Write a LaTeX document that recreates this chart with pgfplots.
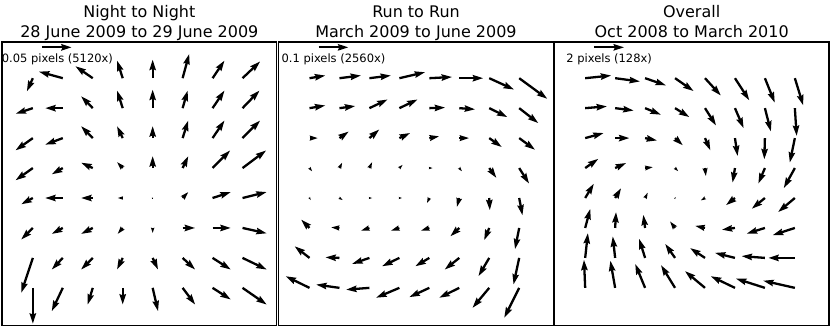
\documentclass[border=0pt]{standalone}
\usepackage{pgfplots}
\pgfplotsset{compat=1.18}
\usepackage{fontspec}
\setmainfont{DejaVu Sans}
\usetikzlibrary{arrows.meta}

\tikzset{
  titlefont/.style={font=\fontsize{16}{19}\selectfont, anchor=base},
  keyfont/.style={font=\fontsize{11.5}{13}\selectfont},
}

\pgfplotsset{
  panel/.style={
    scale only axis, width=275pt, height=284pt,
    xmin=-1.03, xmax=8.14, ymin=-1.26, ymax=8.21,
    xtick=\empty, ytick=\empty,
    axis line style={line width=1.2pt},
    clip=false,
    point meta min=0, point meta max=0.37,
  },
  vec/.style={
    black,
    point meta={veclen(\thisrow{u},\thisrow{v})},
    quiver={u=\thisrow{u}, v=\thisrow{v},
      every arrow/.append style={line width={0.2pt+min(\pgfplotspointmetatransformed,1000)/1000*2.1pt}}},
    -{Stealth[length=0pt 4.5, width=0pt 2.7, inset=0pt 0.5]},
  },
}

\begin{document}
\begin{tikzpicture}
\useasboundingbox (-2pt,-4pt) rectangle (829pt,326pt);

% night to night
\begin{axis}[panel, at={(0pt,0pt)}]
\addplot[vec] table {
x y u v
0 7 -0.20 -0.44
1 7 -0.80 0.22
2 7 -0.58 0.40
3 7 -0.19 0.59
4 7 0.00 0.62
5 7 0.22 0.81
6 7 0.40 0.59
7 7 0.59 0.56
0 6 -0.58 -0.19
1 6 -0.59 0.00
2 6 -0.39 0.40
3 6 -0.19 0.59
4 6 0.00 0.62
5 6 0.17 0.59
6 6 0.40 0.59
7 6 0.57 0.59
0 5 -0.58 -0.41
1 5 -0.59 -0.22
2 5 -0.39 0.40
3 5 -0.19 0.40
4 5 0.00 0.40
5 5 0.19 0.59
6 5 0.40 0.59
7 5 0.59 0.59
0 4 -0.58 -0.41
1 4 -0.37 -0.21
2 4 -0.39 0.18
3 4 -0.19 0.20
4 4 0.00 0.40
5 4 0.19 0.40
6 4 0.59 0.59
7 4 0.79 0.59
0 3 -0.39 -0.21
1 3 -0.59 0.00
2 3 -0.39 0.00
3 3 -0.17 0.00
4 3 0.02 0.00
5 3 0.19 0.20
6 3 0.61 0.20
7 3 0.81 0.20
0 2 -0.39 -0.39
1 2 -0.37 -0.20
2 2 -0.39 -0.20
3 2 -0.17 -0.20
4 2 0.00 -0.17
5 2 0.42 0.00
6 2 0.61 0.00
7 2 0.81 -0.18
0 1 -0.39 -1.17
1 1 -0.37 -0.39
2 1 -0.39 -0.39
3 1 -0.19 -0.39
4 1 0.18 -0.39
5 1 0.42 -0.39
6 1 0.61 -0.39
7 1 0.81 -0.39
0 0 0.00 -1.20
1 0 -0.37 -0.78
2 0 -0.17 -0.56
3 0 0.00 -0.56
4 0 0.18 -0.78
5 0 0.42 -0.56
6 0 0.61 -0.39
7 0 0.81 -0.56
};
\addplot[vec] table {
x y u v
0.30 8.03 1 0
};
\node[keyfont] at (axis cs:0.82,7.64) {0.05 pixels (5120x)};
\node[titlefont, yshift=24.5pt] at (rel axis cs:0.5,1) {Night to Night};
\node[titlefont, yshift=4.5pt] at (rel axis cs:0.5,1) {28 June 2009 to 29 June 2009};
\end{axis}

% run to run
\begin{axis}[panel, at={(277pt,0pt)}]
\addplot[vec] table {
x y u v
0 7 0.53 0.09
1 7 0.72 0.09
2 7 0.72 0.09
3 7 0.86 0.20
4 7 0.76 0.04
5 7 0.80 0.00
6 7 0.83 -0.38
7 7 0.94 -0.69
0 6 0.53 0.09
1 6 0.53 0.07
2 6 0.61 0.29
3 6 0.61 0.29
4 6 0.53 0.02
5 6 0.53 -0.04
6 6 0.61 -0.30
7 6 0.64 -0.50
0 5 0.28 0.00
1 5 0.31 0.22
2 5 0.33 0.29
3 5 0.36 0.17
4 5 0.33 0.06
5 5 0.33 0.00
6 5 0.42 -0.30
7 5 0.53 -0.39
0 4 0.09 -0.11
1 4 0.09 0.18
2 4 0.09 0.20
3 4 0.11 0.11
4 4 0.11 0.00
5 4 0.09 -0.11
6 4 0.24 -0.33
7 4 0.33 -0.52
0 3 0.04 -0.07
1 3 0.11 -0.07
2 3 0.09 0.00
3 3 0.09 0.00
4 3 -0.08 -0.17
5 3 -0.08 -0.30
6 3 0.02 -0.41
7 3 0.11 -0.58
0 2 -0.28 0.28
1 2 -0.28 0.02
2 2 -0.28 -0.09
3 2 -0.28 -0.09
4 2 -0.28 -0.09
5 2 -0.30 -0.28
6 2 -0.17 -0.41
7 2 -0.14 -0.71
0 1 -0.50 0.39
1 1 -0.47 0.02
2 1 -0.58 -0.20
3 1 -0.58 -0.28
4 1 -0.47 -0.28
5 1 -0.49 -0.39
6 1 -0.36 -0.61
7 1 -0.19 -0.89
0 0 -0.80 0.39
1 0 -0.78 0.11
2 0 -0.78 -0.06
3 0 -0.78 -0.33
4 0 -0.67 -0.31
5 0 -0.67 -0.33
6 0 -0.56 -0.67
7 0 -0.50 -1.00
};
\addplot[vec] table {
x y u v
0.30 8.03 1 0
};
\node[keyfont] at (axis cs:0.80,7.64) {0.1 pixels (2560x)};
\node[titlefont, yshift=24.5pt] at (rel axis cs:0.5,1) {Run to Run};
\node[titlefont, yshift=4.5pt] at (rel axis cs:0.5,1) {March 2009 to June 2009};
\end{axis}

% overall
\begin{axis}[panel, at={(553pt,0pt)}]
\addplot[vec] table {
x y u v
0 7 0.87 0.09
1 7 0.83 -0.11
2 7 0.70 -0.24
3 7 0.62 -0.43
4 7 0.53 -0.58
5 7 0.48 -0.74
6 7 0.33 -0.82
7 7 0.28 -0.91
0 6 0.73 0.06
1 6 0.62 -0.08
2 6 0.53 -0.22
3 6 0.48 -0.30
4 6 0.37 -0.58
5 6 0.29 -0.67
6 6 0.20 -0.78
7 6 0.06 -0.93
0 5 0.62 0.17
1 5 0.48 0.00
2 5 0.40 -0.08
3 5 0.26 -0.24
4 5 0.18 -0.41
5 5 0.09 -0.60
6 5 -0.02 -0.71
7 5 -0.17 -0.82
0 4 0.44 0.31
1 4 0.37 0.17
2 4 0.26 0.03
3 4 0.11 -0.11
4 4 0.03 -0.27
5 4 -0.08 -0.49
6 4 -0.22 -0.52
7 4 -0.37 -0.67
0 3 0.29 0.48
1 3 0.20 0.33
2 3 0.09 0.18
3 3 0.02 0.03
4 3 -0.14 -0.08
5 3 -0.30 -0.24
6 3 -0.44 -0.36
7 3 -0.56 -0.47
0 2 0.17 0.64
1 2 0.03 0.53
2 2 -0.06 0.44
3 2 -0.17 0.22
4 2 -0.33 0.07
5 2 -0.44 -0.06
6 2 -0.61 -0.19
7 2 -0.74 -0.24
0 1 0.09 0.83
1 1 -0.08 0.72
2 1 -0.20 0.64
3 1 -0.33 0.47
4 1 -0.50 0.33
5 1 -0.67 0.17
6 1 -0.78 0.06
7 1 -0.89 0.00
0 0 -0.04 0.94
1 0 -0.16 0.91
2 0 -0.33 0.80
3 0 -0.47 0.76
4 0 -0.67 0.56
5 0 -0.81 0.39
6 0 -0.97 0.31
7 0 -1.06 0.24
};
\addplot[vec] table {
x y u v
0.30 8.03 1 0
};
\node[keyfont] at (axis cs:0.80,7.64) {2 pixels (128x)};
\node[titlefont, yshift=24.5pt] at (rel axis cs:0.5,1) {Overall};
\node[titlefont, yshift=4.5pt] at (rel axis cs:0.5,1) {Oct 2008 to March 2010};
\end{axis}
\end{tikzpicture}
\end{document}
